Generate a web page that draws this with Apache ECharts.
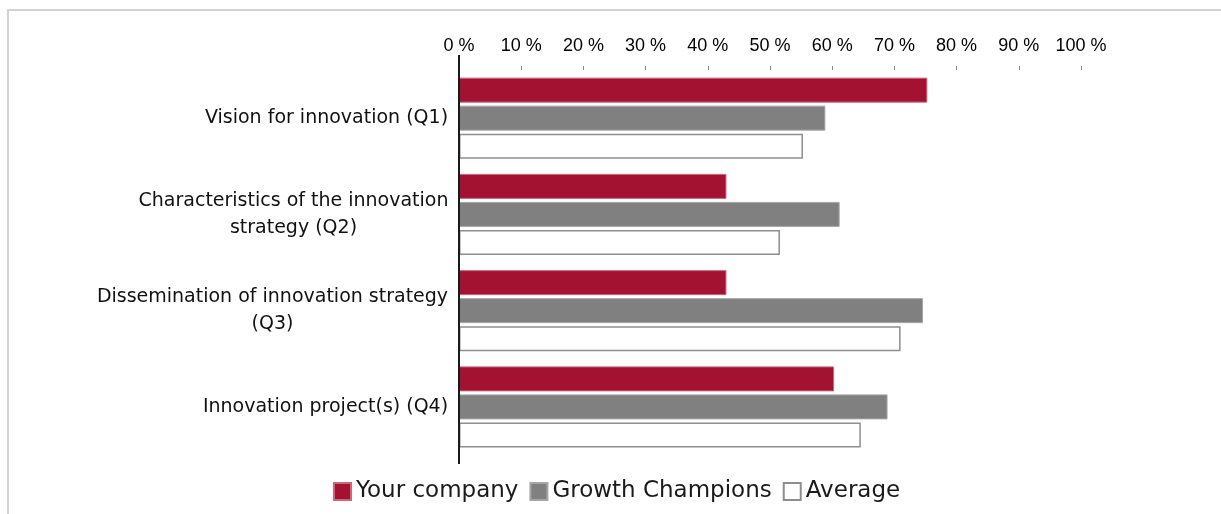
<!DOCTYPE html>
<html>
<head>
<meta charset="utf-8">
<script src="https://cdn.jsdelivr.net/npm/echarts@6/dist/echarts.min.js"></script>
<style>
  html, body { margin: 0; padding: 0; background: #fff; }
  #frame {
    position: absolute; left: 7px; top: 9px; right: 0; bottom: 0;
    border-top: 2px solid #d3d3d3; border-left: 2px solid #d3d3d3;
  }
  #chart { position: absolute; left: 0; top: 0; width: 1221px; height: 514px; }
</style>
</head>
<body>
<div id="frame"></div>
<div id="chart"></div>
<script>
// Survey questions (top to bottom)
const categories = [
  'Vision for innovation (Q1)',
  'Characteristics of the innovation\nstrategy (Q2)',
  'Dissemination of innovation strategy\n(Q3)',
  'Innovation project(s) (Q4)'
];

// Share of positive answers, in percent
const yourCompany     = [75.3, 43.0, 43.0, 60.3];
const growthChampions = [58.9, 61.2, 74.6, 68.9];
const average         = [55.3, 51.6, 71.0, 64.6];

// Percentage scale along the top
const xMin = 0;
const xMax = 100;
const xStep = 10;
const tickSuffix = ' %';

const LABEL_FONT = 'DejaVu Sans';
const LABEL_SIZE = 19;
const LINE_H = 27;

// Multi-line category labels: lines centred on each other, block right-aligned to the axis
const measureCtx = document.createElement('canvas').getContext('2d');
measureCtx.font = LABEL_SIZE + 'px "' + LABEL_FONT + '"';
const rich = {};
categories.forEach(function (c, i) {
  const lines = c.split('\n');
  let w = 0;
  lines.forEach(function (l) { w = Math.max(w, measureCtx.measureText(l).width); });
  rich['c' + i] = {
    width: Math.ceil(w) + 1,
    align: 'center',
    fontFamily: LABEL_FONT,
    fontSize: LABEL_SIZE,
    lineHeight: LINE_H,
    color: '#111'
  };
});

const chart = echarts.init(document.getElementById('chart'), null, { renderer: 'canvas' });

const GRID_TOP = 70;
const GRID_BOTTOM = 59;

chart.setOption({
  animation: false,
  backgroundColor: 'transparent',
  grid: { left: 459, right: 140, top: GRID_TOP, bottom: GRID_BOTTOM, containLabel: false },
  legend: {
    left: 333,
    top: 480,
    padding: 0,
    itemWidth: 17,
    itemHeight: 17,
    itemGap: 11,
    icon: 'rect',
    textStyle: { fontFamily: LABEL_FONT, fontSize: 23, color: '#1a1a1a' },
    data: ['Your company', 'Growth Champions', 'Average']
  },
  xAxis: {
    type: 'value',
    position: 'top',
    min: xMin,
    max: xMax,
    interval: xStep,
    axisLine: { show: false },
    axisTick: { show: true, length: 4, lineStyle: { color: '#8a8a8a', width: 1 } },
    splitLine: { show: false },
    axisLabel: {
      margin: 15,
      fontFamily: 'Liberation Sans',
      fontSize: 18,
      color: '#000',
      formatter: function (v) { return v + tickSuffix; }
    }
  },
  yAxis: {
    type: 'category',
    inverse: true,
    data: categories,
    axisLine: { show: false },
    axisTick: { show: false },
    axisLabel: {
      margin: 10,
      fontFamily: LABEL_FONT,
      fontSize: LABEL_SIZE,
      lineHeight: LINE_H,
      color: '#111',
      rich: rich,
      formatter: function (value, idx) {
        return value.split('\n').map(function (l) {
          return '{c' + idx + '|' + l + '}';
        }).join('\n');
      }
    }
  },
  series: [
    {
      name: 'Your company',
      type: 'bar',
      data: yourCompany,
      barWidth: 25,
      barGap: '12%',
      itemStyle: { color: '#a31230', borderColor: '#c8687a', borderWidth: 1 }
    },
    {
      name: 'Growth Champions',
      type: 'bar',
      data: growthChampions,
      barWidth: 25,
      barGap: '12%',
      itemStyle: { color: '#808080', borderColor: '#a6a6a6', borderWidth: 1 }
    },
    {
      name: 'Average',
      type: 'bar',
      data: average,
      barWidth: 25,
      barGap: '12%',
      itemStyle: { color: '#ffffff', borderColor: '#8e8e8e', borderWidth: 1.5 }
    }
  ]
});

// Vertical baseline at 0 %, running a little past the plot area at both ends
const x0 = chart.convertToPixel({ xAxisIndex: 0 }, 0);
const plotBottom = 514 - GRID_BOTTOM;
chart.setOption({
  graphic: [{
    type: 'line',
    z: 10,
    shape: { x1: x0, y1: GRID_TOP - 15, x2: x0, y2: plotBottom + 9 },
    style: { stroke: '#1a1a1a', lineWidth: 2 }
  }]
});
</script>
</body>
</html>
